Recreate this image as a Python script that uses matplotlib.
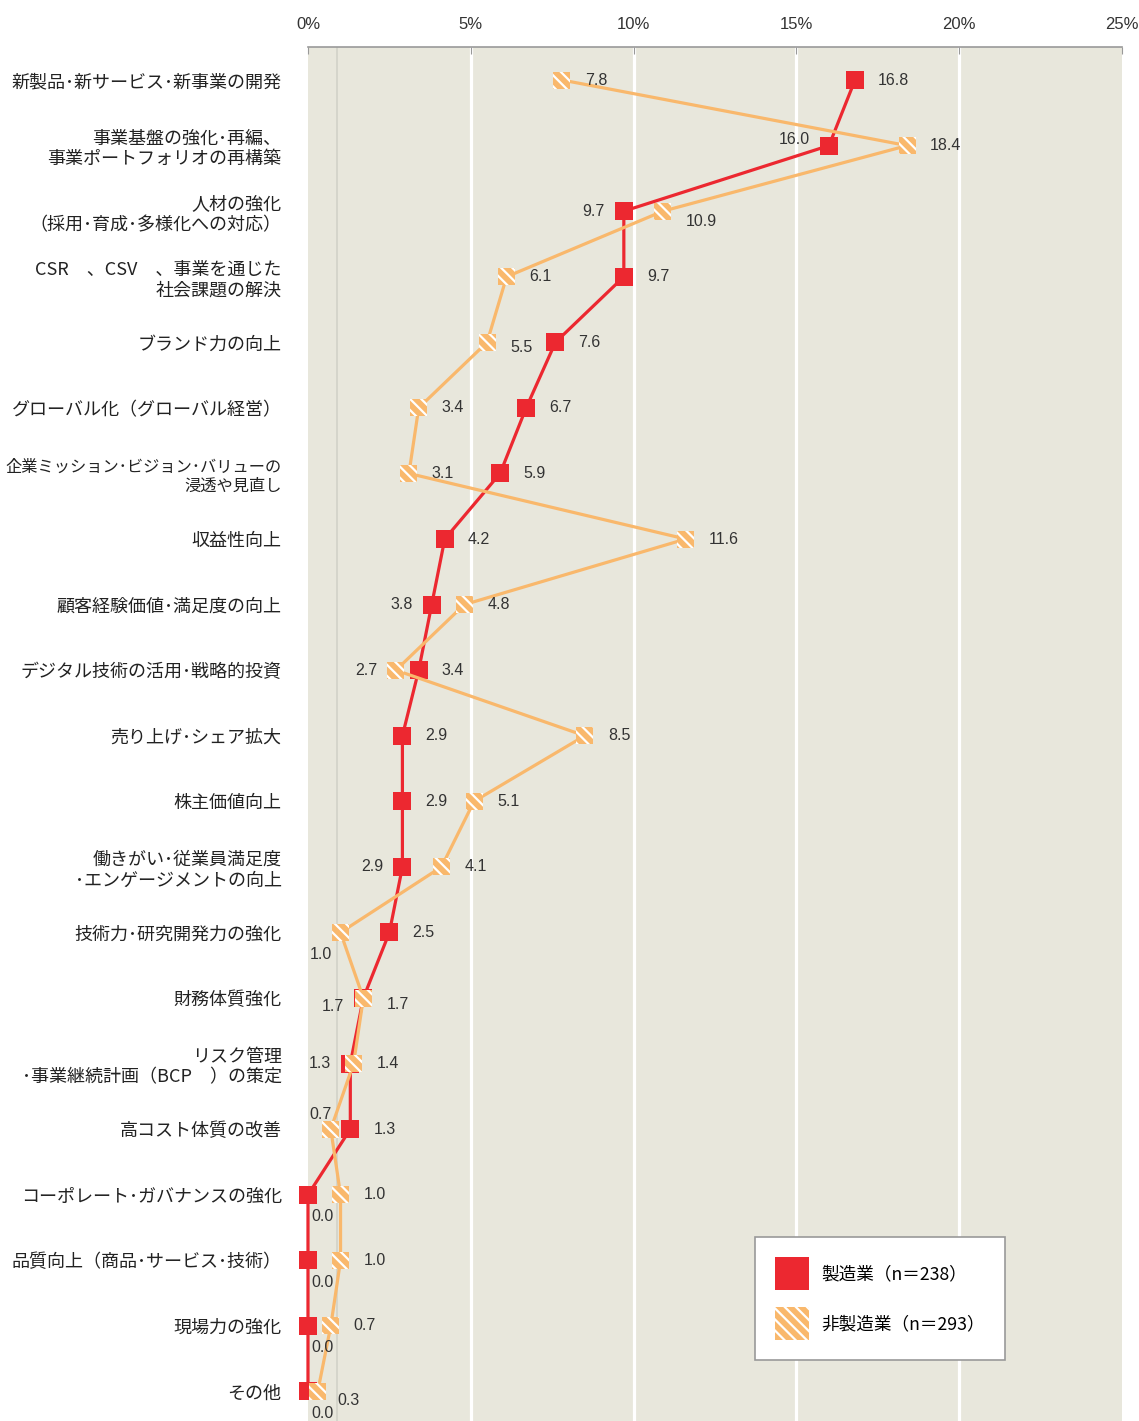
import numpy as np
import matplotlib
matplotlib.use('Agg')
import matplotlib.pyplot as plt
from matplotlib.patches import Patch

plt.rcParams['font.family'] = ['Noto Sans CJK JP', 'DejaVu Sans']
plt.rcParams['hatch.color'] = 'white'
plt.rcParams['hatch.linewidth'] = 1.6

categories = [
    '新製品･新サービス･新事業の開発',
    '事業基盤の強化･再編、\n事業ポートフォリオの再構築',
    '人材の強化\n（採用･育成･多様化への対応）',
    'CSR　、CSV　、事業を通じた\n社会課題の解決',
    'ブランド力の向上',
    'グローバル化（グローバル経営）',
    '企業ミッション･ビジョン･バリューの\n浸透や見直し',
    '収益性向上',
    '顧客経験価値･満足度の向上',
    'デジタル技術の活用･戦略的投資',
    '売り上げ･シェア拡大',
    '株主価値向上',
    '働きがい･従業員満足度\n･エンゲージメントの向上',
    '技術力･研究開発力の強化',
    '財務体質強化',
    'リスク管理\n･事業継続計画（BCP　）の策定',
    '高コスト体質の改善',
    'コーポレート･ガバナンスの強化',
    '品質向上（商品･サービス･技術）',
    '現場力の強化',
    'その他',
]
manufacturing = [16.8, 16.0, 9.7, 9.7, 7.6, 6.7, 5.9, 4.2, 3.8, 3.4, 2.9,
                 2.9, 2.9, 2.5, 1.7, 1.3, 1.3, 0.0, 0.0, 0.0, 0.0]
non_manufacturing = [7.8, 18.4, 10.9, 6.1, 5.5, 3.4, 3.1, 11.6, 4.8, 2.7, 8.5,
                     5.1, 4.1, 1.0, 1.7, 1.4, 0.7, 1.0, 1.0, 0.7, 0.3]
series_names = ['製造業（n＝238）', '非製造業（n＝293）']
x_ticks = [0, 5, 10, 15, 20, 25]

# label placement (pixel offsets, alignment) per point
place = {
    'R': (23, 0, 'left'), 'L': (-19, 0, 'right'), 'LU': (-19, 6, 'right'),
    'RD': (23, -10, 'left'), 'RD5': (23, -5, 'left'), 'LD': (-19, -8, 'right'),
    'B': (15, -22, 'center'), 'BL': (-20, -22, 'center'), 'AL': (-10, 15, 'center'),
    'RD9': (20, -9, 'left'), 'RU': (23, -6, 'left'),
}
red_pos = ['R', 'LU', 'L', 'R', 'R', 'R', 'R', 'R', 'L', 'R', 'R', 'R', 'L',
           'R', 'LD', 'L', 'R', 'B', 'B', 'B', 'B']
org_pos = ['R', 'R', 'RD', 'R', 'RD5', 'R', 'R', 'R', 'R', 'L', 'R', 'R', 'R',
           'BL', 'RU', 'R', 'AL', 'R', 'R', 'R', 'RD9']

red = '#ec2830'
orange = '#f9b86c'
bg = '#e8e7dc'

fig = plt.figure(figsize=(11.39, 14.21), dpi=100)
ax = fig.add_axes([0.2704, 0, 0.7147, 0.9669])
ax.set_facecolor(bg)

y = np.arange(len(categories))

for xv in x_ticks[1:-1]:
    ax.axvline(xv, color='white', lw=2.3, zorder=1)
ax.axvline(0.88, color='#d2d2c8', lw=1.2, zorder=1)

ax.plot(manufacturing, y, color=red, lw=2.3, zorder=3, clip_on=False)
ax.scatter(manufacturing, y, marker='s', s=180, color=red, zorder=4,
           linewidths=0, clip_on=False)
ax.plot(non_manufacturing, y, color=orange, lw=2.3, zorder=5, clip_on=False)
ax.scatter(non_manufacturing, y, marker='s', s=150, facecolor=orange,
           edgecolor='white', hatch='\\\\\\', linewidths=0, zorder=6, clip_on=False)

for vals, pos in ((manufacturing, red_pos), (non_manufacturing, org_pos)):
    for v, yy, p in zip(vals, y, pos):
        dx, dy, ha = place[p]
        ax.annotate(f'{v:.1f}', (v, yy), xytext=(dx, dy), textcoords='offset pixels',
                    ha=ha, va='center', fontsize=11.5, color='#333333',
                    family='Liberation Sans', zorder=7)

ax.set_xlim(0, 25)
ax.set_ylim(20.45, -0.503)
ax.xaxis.tick_top()
ax.set_xticks(x_ticks)
ax.set_xticklabels([f'{t}%' for t in x_ticks], fontsize=12,
                   family=['Liberation Sans Narrow', 'Liberation Sans'])
ax.tick_params(axis='x', direction='in', length=5, color='#999999', pad=11,
               labelcolor='#333333')
ax.set_yticks(y)
ax.set_yticklabels(categories, fontsize=13, linespacing=1.2, color='#222222')
ax.get_yticklabels()[6].set_fontsize(11.7)
ax.tick_params(axis='y', length=0, pad=19)
for s in ['left', 'right', 'bottom']:
    ax.spines[s].set_visible(False)
ax.spines['top'].set_color('#999999')
ax.spines['top'].set_linewidth(1.2)

handles = [Patch(facecolor=red, label=series_names[0]),
           Patch(facecolor=orange, hatch='\\\\\\', label=series_names[1])]
leg = ax.legend(handles=handles, loc='lower right', bbox_to_anchor=(0.856, 0.0444),
                borderaxespad=0, fontsize=12.7, handlelength=1.95, handleheight=2.45,
                labelspacing=1.0, borderpad=1.15, handletextpad=0.65,
                fancybox=False, framealpha=1, edgecolor='#999999')
leg.get_frame().set_linewidth(1.2)
leg.set_zorder(10)

plt.savefig('out.png', dpi=100)
